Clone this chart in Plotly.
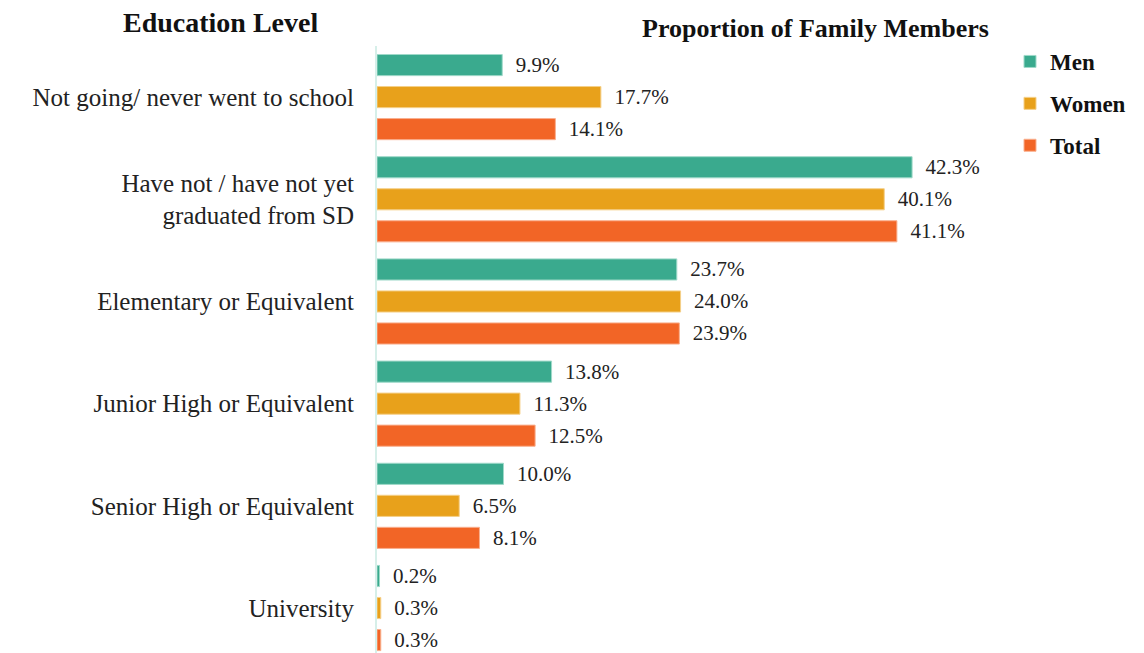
import plotly.graph_objects as go

categories = ["Not going/ never went to school",
              "Have not / have not yet<br>graduated from SD",
              "Elementary or Equivalent",
              "Junior High or Equivalent",
              "Senior High or Equivalent",
              "University"]
men = [9.9, 42.3, 23.7, 13.8, 10.0, 0.2]
women = [17.7, 40.1, 24.0, 11.3, 6.5, 0.3]
total = [14.1, 41.1, 23.9, 12.5, 8.1, 0.3]

series = [("Men", men, "#3aaa8e", "#9fd9c9"),
          ("Women", women, "#e8a11b", "#f5d08a"),
          ("Total", total, "#f26526", "#f9b08f")]

FONT = "Liberation Serif"
pos = list(range(len(categories)))

L, R, T, B = 377, 144, 46, 0
W, H = 1144, 653
pw, ph = W - L - R, H - T - B

def px(x):
    return (x - L) / pw

def py(y):
    return (H - B - y) / ph

label_font = dict(family=FONT, size=21, color="#222")

fig = go.Figure()
for name, vals, col, edge in series:
    fig.add_trace(go.Bar(
        y=pos, x=vals, name=name, orientation="h",
        marker=dict(color=col, line=dict(color=edge, width=1)),
        text=["  %.1f%%" % v for v in vals], textposition="outside",
        constraintext="none",
        textfont=label_font, outsidetextfont=label_font,
        cliponaxis=False, legendgroup=name,
    ))

fig.update_layout(
    width=W, height=H,
    margin=dict(l=L, r=R, t=T, b=B, autoexpand=False),
    plot_bgcolor="white", paper_bgcolor="white",
    barmode="group", bargap=0.06, bargroupgap=0.34,
    font=dict(family=FONT, color="#222"),
    xaxis=dict(range=[0, 49.25], visible=False),
    yaxis=dict(range=[5.44, -0.5], tickvals=pos, ticktext=categories,
               tickfont=dict(family=FONT, size=25, color="#222"),
               ticks="outside", ticklen=16, tickcolor="rgba(0,0,0,0)",
               showline=True, linecolor="#d6efe9", linewidth=2,
               showgrid=False, zeroline=False),
    legend=dict(x=1010 / W, y=1 - 40 / H, xref="container", yref="container",
                yanchor="top", xanchor="left",
                font=dict(family=FONT, size=23, color="#111", weight="bold"),
                tracegroupgap=9, traceorder="grouped", itemwidth=30),
    showlegend=True,
    annotations=[
        dict(text="<b>Education Level</b>", x=px(220), y=py(22),
             xref="paper", yref="paper", showarrow=False,
             xanchor="center", yanchor="middle",
             font=dict(family=FONT, size=28, color="#111")),
        dict(text="<b>Proportion of Family Members</b>", x=px(815), y=py(28),
             xref="paper", yref="paper", showarrow=False,
             xanchor="center", yanchor="middle",
             font=dict(family=FONT, size=26, color="#111")),
    ],
)

fig.write_html("out.html", config={"displayModeBar": False},
               post_script="document.body.style.margin='0';document.body.style.padding='0';")
